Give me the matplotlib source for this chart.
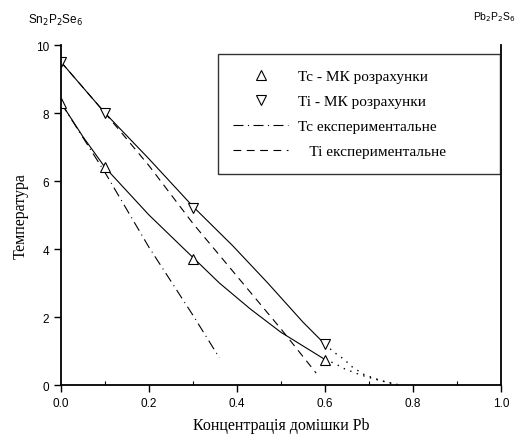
import matplotlib
matplotlib.use('Agg')
import matplotlib.pyplot as plt
from matplotlib.lines import Line2D

# Monte-Carlo points
x_mc = [0.0, 0.1, 0.3, 0.6]
tc_mc = [8.3, 6.4, 3.7, 0.75]
ti_mc = [9.5, 8.0, 5.2, 1.2]

# solid curves through the MC points
tc_curve_x = [0.0, 0.05, 0.1, 0.2, 0.3, 0.36, 0.43, 0.5, 0.55, 0.6]
tc_curve_y = [8.3, 7.3, 6.4, 5.0, 3.75, 3.0, 2.24, 1.55, 1.15, 0.75]
ti_curve_x = [0.0, 0.1, 0.2, 0.3, 0.39, 0.47, 0.55, 0.6]
ti_curve_y = [9.5, 8.0, 6.65, 5.25, 4.1, 3.0, 1.85, 1.2]

# dotted extrapolation to zero
tc_ext_x = [0.6, 0.625, 0.64, 0.68, 0.72, 0.76]
tc_ext_y = [0.75, 0.62, 0.5, 0.3, 0.15, 0.02]
ti_ext_x = [0.6, 0.62, 0.645, 0.66, 0.69, 0.73, 0.77]
ti_ext_y = [1.2, 0.97, 0.74, 0.55, 0.3, 0.12, 0.0]

# experimental curves
tc_exp_x = [0.0, 0.1, 0.2, 0.3, 0.36]
tc_exp_y = [8.3, 6.25, 4.05, 2.05, 0.8]
ti_exp_x = [0.0, 0.1, 0.2, 0.3, 0.4, 0.5, 0.58]
ti_exp_y = [9.5, 8.0, 6.45, 4.75, 3.2, 1.65, 0.35]

legend_labels = ['Tc - МК розрахунки', 'Ti - МК розрахунки',
                 'Tc експериментальне', '   Ti експериментальне']

serif = 'Liberation Serif'
sans = 'Liberation Sans'

fig = plt.figure(figsize=(5.18, 4.39), dpi=100)
ax = fig.add_axes([0.1178, 0.1207, 0.8492, 0.7745])

lw = 0.8
ax.plot(tc_curve_x, tc_curve_y, color='black', lw=lw)
ax.plot(ti_curve_x, ti_curve_y, color='black', lw=lw)
ax.plot(tc_ext_x, tc_ext_y, color='black', lw=1.0, dashes=(1, 4))
ax.plot(ti_ext_x, ti_ext_y, color='black', lw=1.0, dashes=(1, 4))
ax.plot(tc_exp_x, tc_exp_y, color='black', lw=lw, dashes=(9, 4, 1, 4))
ax.plot(ti_exp_x, ti_exp_y, color='black', lw=lw, dashes=(7, 5))
ax.plot(x_mc, tc_mc, ls='none', marker='^', ms=7, mfc='white', mec='black', mew=0.8)
ax.plot(x_mc, ti_mc, ls='none', marker='v', ms=7, mfc='white', mec='black', mew=0.8)

ax.set_xlim(0, 1.0)
ax.set_ylim(0, 10)
ax.set_xticks([0.0, 0.2, 0.4, 0.6, 0.8, 1.0])
ax.set_xticks([0.1, 0.3, 0.5, 0.7, 0.9], minor=True)
ax.set_yticks([0, 2, 4, 6, 8, 10])
ax.set_xticklabels(['0.0', '0.2', '0.4', '0.6', '0.8', '1.0'])
ax.tick_params(axis='both', which='major', direction='out', length=5, width=1,
               labelsize=8.5)
ax.tick_params(axis='x', which='minor', direction='in', length=3, width=0.8)
for lab in ax.get_xticklabels() + ax.get_yticklabels():
    lab.set_family(sans)

ax.spines['top'].set_visible(False)
for s in ['left', 'bottom', 'right']:
    ax.spines[s].set_linewidth(1.3)

ax.set_xlabel('Концентрація домішки Pb', family=serif, fontsize=11.5, labelpad=6)
ax.set_ylabel('Температура', family=serif, fontsize=11.5, labelpad=5)

handles = [
    Line2D([], [], ls='none', marker='^', ms=7, mfc='white', mec='black', mew=0.8),
    Line2D([], [], ls='none', marker='v', ms=7, mfc='white', mec='black', mew=0.8),
    Line2D([], [], color='black', lw=lw, dashes=(9, 4, 1, 4)),
    Line2D([], [], color='black', lw=lw, dashes=(7, 5)),
]
leg = ax.legend(handles, legend_labels, loc='upper left',
                bbox_to_anchor=(0.357, 0.9735, 0.641, 0.0), mode='expand',
                borderaxespad=0,
                prop={'family': serif, 'size': 11}, frameon=True, fancybox=False,
                edgecolor='black', handlelength=3.6, handletextpad=0.6,
                labelspacing=0.75, borderpad=1.0)
leg.get_frame().set_linewidth(1.0)

fig.text(55 / 518, 1 - 20 / 439, r'Sn$_2$P$_2$Se$_6$', family=sans, fontsize=8.5,
         ha='center', va='center')
fig.text(516 / 518, 1 - 17 / 439, r'Pb$_2$P$_2$S$_6$', family=sans, fontsize=7.5,
         ha='right', va='center')

fig.savefig('out.png', dpi=100)
